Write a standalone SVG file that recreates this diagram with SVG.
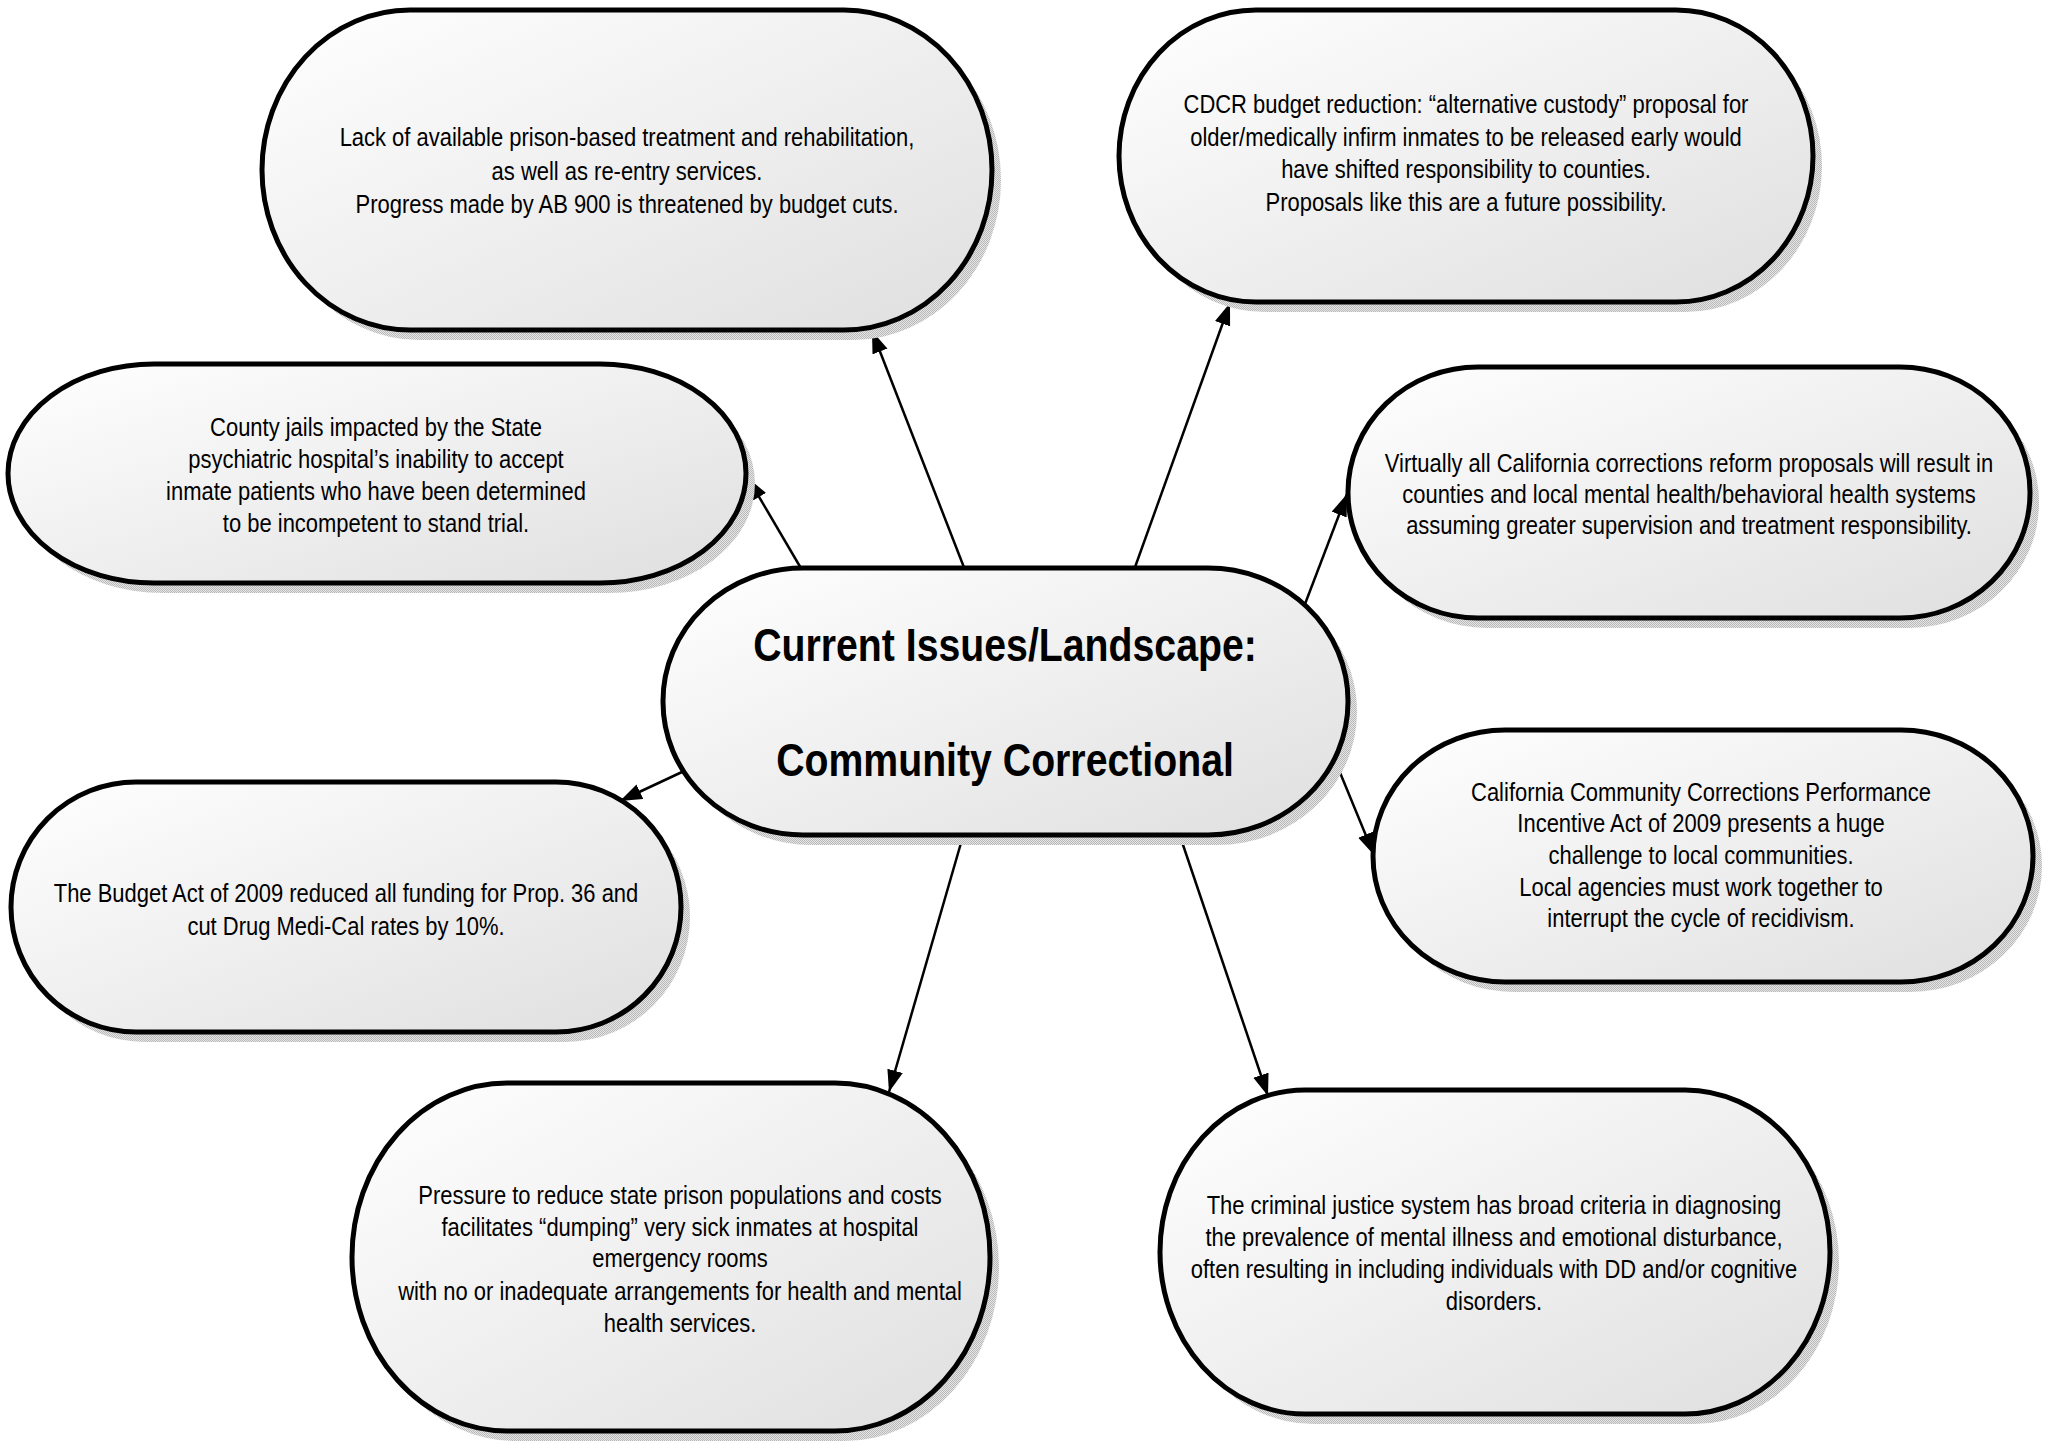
<svg xmlns="http://www.w3.org/2000/svg" width="2049" height="1445" viewBox="0 0 2049 1445">
<style>
.shadow{fill:url(#dots)}
.box{fill:url(#grad);stroke:#000;stroke-width:5}
.t{font-family:"Liberation Sans","Arial",sans-serif;font-size:26px;fill:#000;text-anchor:middle}
.title{font-family:"Liberation Sans","Arial",sans-serif;font-size:47px;font-weight:bold;fill:#000;text-anchor:middle}
.conn{stroke:#000;stroke-width:2.5;fill:none;marker-end:url(#arrow)}
</style>
<defs>
<linearGradient id="grad" x1="0" y1="0" x2="1" y2="1">
<stop offset="0" stop-color="#ffffff"/>
<stop offset="1" stop-color="#dfdfdf"/>
</linearGradient>
<pattern id="dots" patternUnits="userSpaceOnUse" width="2" height="2">
<rect width="2" height="2" fill="#e6e6e6"/>
<rect width="1" height="1" fill="#b8b8b8"/>
<rect x="1" y="1" width="1" height="1" fill="#b8b8b8"/>
</pattern>
<marker id="arrow" markerUnits="userSpaceOnUse" markerWidth="24" markerHeight="18" refX="22" refY="8" orient="auto">
<path d="M0,0 L22,8 L0,16 z" fill="#000"/>
</marker>
</defs>
<rect width="2049" height="1445" fill="#fff"/>
<g id="connectors">
<line class="conn" x1="965" y1="570" x2="872" y2="331"/>
<line class="conn" x1="1134" y1="570" x2="1230" y2="303"/>
<line class="conn" x1="802" y1="570" x2="748" y2="478"/>
<line class="conn" x1="1305" y1="604" x2="1347" y2="494"/>
<line class="conn" x1="682" y1="772" x2="620" y2="801"/>
<line class="conn" x1="1334" y1="758" x2="1374" y2="855"/>
<line class="conn" x1="963" y1="836" x2="889" y2="1092"/>
<line class="conn" x1="1180" y1="836" x2="1268" y2="1096"/>
</g>
<g id="node-prison-treatment">
<rect class="shadow" x="271" y="20" width="730" height="320" rx="148" ry="160"/>
<rect class="box" x="262" y="10" width="730" height="320" rx="148" ry="160"/>
<text class="t" transform="translate(627,0) scale(0.845,1)"><tspan x="0" y="146">Lack of available prison-based treatment and rehabilitation,</tspan><tspan x="0" y="180">as well as re-entry services.</tspan><tspan x="0" y="213">Progress made by AB 900 is threatened by budget cuts.</tspan></text>
</g>
<g id="node-cdcr">
<rect class="shadow" x="1128" y="20" width="694" height="292" rx="137" ry="146"/>
<rect class="box" x="1119" y="10" width="694" height="292" rx="137" ry="146"/>
<text class="t" transform="translate(1466,0) scale(0.845,1)"><tspan x="0" y="113">CDCR budget reduction: “alternative custody” proposal for</tspan><tspan x="0" y="146">older/medically infirm inmates to be released early would</tspan><tspan x="0" y="178">have shifted responsibility to counties.</tspan><tspan x="0" y="211">Proposals like this are a future possibility.</tspan></text>
</g>
<g id="node-county-jails">
<rect class="shadow" x="17" y="374" width="738" height="219" rx="146" ry="110"/>
<rect class="box" x="8" y="364" width="738" height="219" rx="146" ry="110"/>
<text class="t" transform="translate(376,0) scale(0.845,1)"><tspan x="0" y="436">County jails impacted by the State</tspan><tspan x="0" y="468">psychiatric hospital’s inability to accept</tspan><tspan x="0" y="500">inmate patients who have been determined</tspan><tspan x="0" y="532">to be incompetent to stand trial.</tspan></text>
</g>
<g id="node-reform-proposals">
<rect class="shadow" x="1357" y="377" width="682" height="251" rx="130" ry="125"/>
<rect class="box" x="1348" y="367" width="682" height="251" rx="130" ry="125"/>
<text class="t" transform="translate(1689,0) scale(0.845,1)"><tspan x="0" y="472">Virtually all California corrections reform proposals will result in</tspan><tspan x="0" y="503">counties and local mental health/behavioral health systems</tspan><tspan x="0" y="534">assuming greater supervision and treatment responsibility.</tspan></text>
</g>
<g id="node-center">
<rect class="shadow" x="672" y="578" width="685" height="267" rx="140" ry="133"/>
<rect class="box" x="663" y="568" width="685" height="267" rx="140" ry="133"/>
<text class="title" transform="translate(1005,0) scale(0.835,1)"><tspan x="0" y="661">Current Issues/Landscape:</tspan><tspan x="0" y="776">Community Correctional</tspan></text>
</g>
<g id="node-budget-act">
<rect class="shadow" x="20" y="792" width="670" height="250" rx="125" ry="125"/>
<rect class="box" x="11" y="782" width="670" height="250" rx="125" ry="125"/>
<text class="t" transform="translate(346,0) scale(0.845,1)"><tspan x="0" y="902">The Budget Act of 2009 reduced all funding for Prop. 36 and</tspan><tspan x="0" y="935">cut Drug Medi-Cal rates by 10%.</tspan></text>
</g>
<g id="node-incentive-act">
<rect class="shadow" x="1382" y="740" width="660" height="252" rx="132" ry="126"/>
<rect class="box" x="1373" y="730" width="660" height="252" rx="132" ry="126"/>
<text class="t" transform="translate(1701,0) scale(0.845,1)"><tspan x="0" y="801">California Community Corrections Performance</tspan><tspan x="0" y="832">Incentive Act of 2009 presents a huge</tspan><tspan x="0" y="864">challenge to local communities.</tspan><tspan x="0" y="896">Local agencies must work together to</tspan><tspan x="0" y="927">interrupt the cycle of recidivism.</tspan></text>
</g>
<g id="node-dumping">
<rect class="shadow" x="361" y="1093" width="638" height="348" rx="155" ry="174"/>
<rect class="box" x="352" y="1083" width="638" height="348" rx="155" ry="174"/>
<text class="t" transform="translate(680,0) scale(0.845,1)"><tspan x="0" y="1204">Pressure to reduce state prison populations and costs</tspan><tspan x="0" y="1236">facilitates “dumping” very sick inmates at hospital</tspan><tspan x="0" y="1267">emergency rooms</tspan><tspan x="0" y="1300">with no or inadequate arrangements for health and mental</tspan><tspan x="0" y="1332">health services.</tspan></text>
</g>
<g id="node-criminal-justice">
<rect class="shadow" x="1169" y="1100" width="670" height="324" rx="145" ry="162"/>
<rect class="box" x="1160" y="1090" width="670" height="324" rx="145" ry="162"/>
<text class="t" transform="translate(1494,0) scale(0.845,1)"><tspan x="0" y="1214">The criminal justice system has broad criteria in diagnosing</tspan><tspan x="0" y="1246">the prevalence of mental illness and emotional disturbance,</tspan><tspan x="0" y="1278">often resulting in including individuals with DD and/or cognitive</tspan><tspan x="0" y="1310">disorders.</tspan></text>
</g>
</svg>
